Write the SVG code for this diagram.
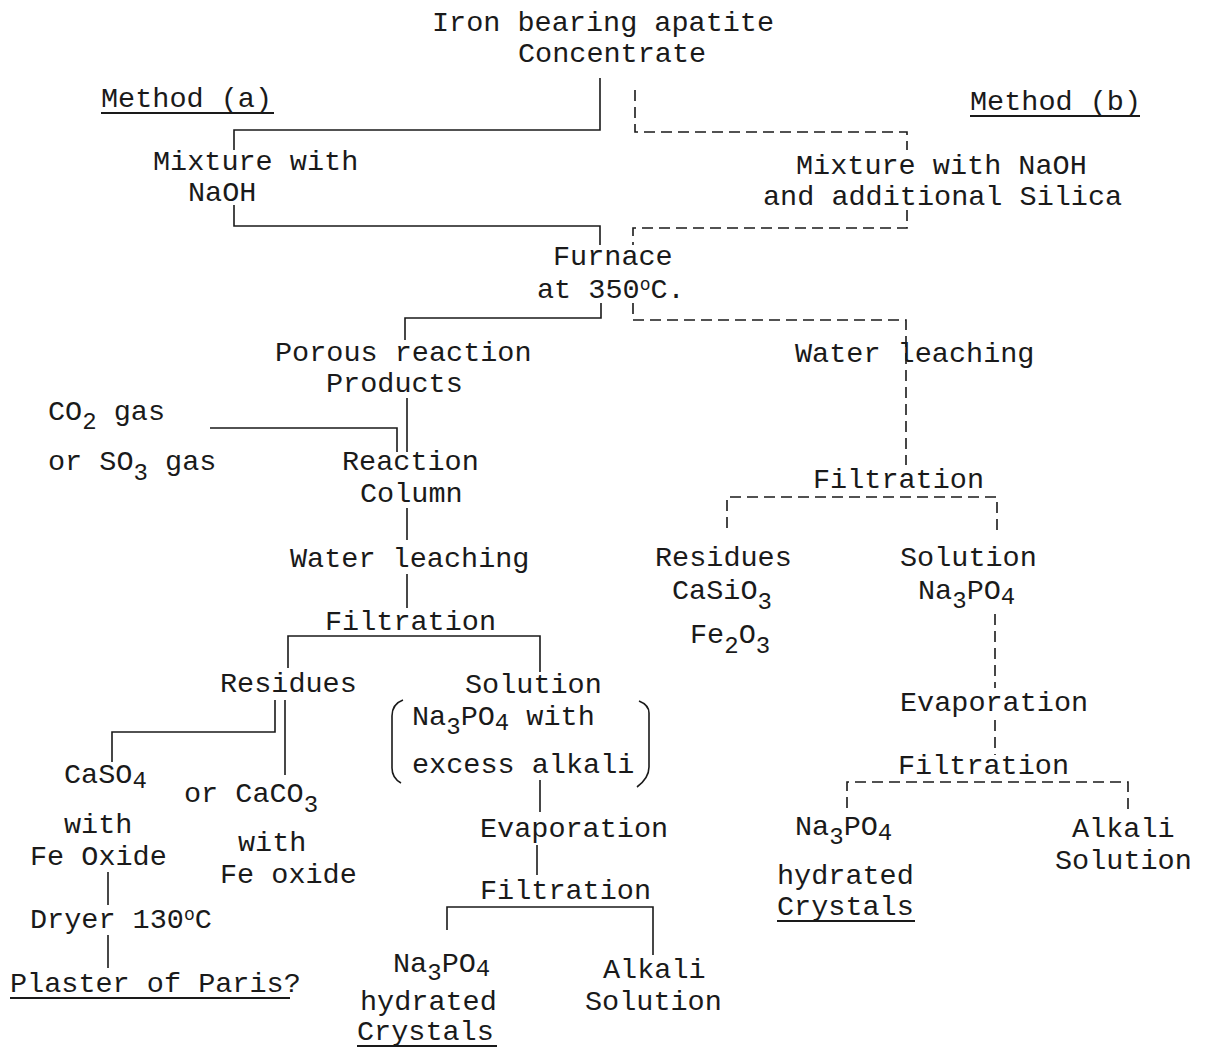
<svg xmlns="http://www.w3.org/2000/svg" width="1209" height="1050" viewBox="0 0 1209 1050">
  <style>
    text { font-family: "Liberation Mono", "DejaVu Sans Mono", monospace; font-size: 28.5px; fill: #1a1a1a; }
    .sub { font-size: 24px; }
    .sup { font-size: 18px; }
    .solid { fill: none; stroke: #1a1a1a; stroke-width: 1.6; }
    .dash { fill: none; stroke: #1a1a1a; stroke-width: 1.6; stroke-dasharray: 11 6; }
    .ul { stroke: #1a1a1a; stroke-width: 2; }
  </style>
  <rect width="1209" height="1050" fill="#ffffff"/>

  <!-- connectors -->
  <g id="connectors">
    <!-- method (a), solid -->
    <path class="solid" d="M600,78 V130 H234 V150"/>
    <path class="solid" d="M234,205 V226 H600 V245"/>
    <path class="solid" d="M601,303 V318 H405 V340"/>
    <path class="solid" d="M407,398 V452"/>
    <path class="solid" d="M210,428 H397 V452"/>
    <path class="solid" d="M407,508 V540"/>
    <path class="solid" d="M407,574 V608"/>
    <path class="solid" d="M288,668 V636 H540 V672"/>
    <path class="solid" d="M275,700 V732 H112 V762"/>
    <path class="solid" d="M285,700 V775"/>
    <path class="solid" d="M108,872 V905"/>
    <path class="solid" d="M108,935 V968"/>
    <path class="solid" d="M540,780 V812"/>
    <path class="solid" d="M537,845 V875"/>
    <path class="solid" d="M447,930 V907 H653 V955"/>
    <!-- brackets round the solution -->
    <path class="solid" d="M403,700 Q392,704 392,716 V768 Q392,778 401,783"/>
    <path class="solid" d="M639,701 Q649,705 649,713 V767 Q649,778 637,787"/>
    <!-- method (b), dashed -->
    <path class="dash" d="M635,90 V132 H907 V150"/>
    <path class="dash" d="M907,210 V228 H633 V245"/>
    <path class="dash" d="M633,303 V320 H906 V465"/>
    <path class="dash" d="M727,528 V497 H997 V535"/>
    <path class="dash" d="M995,614 V688"/>
    <path class="dash" d="M995,720 V755"/>
    <path class="dash" d="M847,808 V782 H1128 V812"/>
  </g>

  <!-- headings -->
  <g id="start">
    <text x="432" y="31">Iron bearing apatite</text>
    <text x="518" y="62">Concentrate</text>
  </g>
  <g id="method-a">
    <text x="101" y="107">Method (a)</text>
    <line class="ul" x1="101" y1="113" x2="274" y2="113"/>
  </g>
  <g id="method-b">
    <text x="970" y="110">Method (b)</text>
    <line class="ul" x1="970" y1="116" x2="1140" y2="116"/>
  </g>

  <!-- method (a) chain -->
  <g id="mix-a">
    <text x="153" y="170">Mixture with</text>
    <text x="188" y="201">NaOH</text>
  </g>
  <g id="mix-b">
    <text x="796" y="174">Mixture with NaOH</text>
    <text x="763" y="205">and additional Silica</text>
  </g>
  <g id="furnace">
    <text x="553" y="265">Furnace</text>
    <text x="537" y="298">at 350<tspan class="sup" dy="-8">o</tspan><tspan dy="8">C.</tspan></text>
  </g>
  <g id="porous">
    <text x="275" y="361">Porous reaction</text>
    <text x="326" y="392">Products</text>
  </g>
  <g id="gas">
    <text x="48" y="420">CO<tspan class="sub" dy="9">2</tspan><tspan dy="-9"> gas</tspan></text>
    <text x="48" y="470">or SO<tspan class="sub" dy="10">3</tspan><tspan dy="-10"> gas</tspan></text>
  </g>
  <g id="column">
    <text x="342" y="470">Reaction</text>
    <text x="360" y="502">Column</text>
  </g>
  <g id="leach-a">
    <text x="290" y="567">Water leaching</text>
  </g>
  <g id="filter-a1">
    <text x="325" y="630">Filtration</text>
  </g>
  <g id="residues-a">
    <text x="220" y="692">Residues</text>
  </g>
  <g id="solution-a">
    <text x="465" y="693">Solution</text>
    <text x="412" y="725">Na<tspan class="sub" dy="9">3</tspan><tspan dy="-9">PO</tspan><tspan class="sub" dy="5">4</tspan><tspan dy="-5"> with</tspan></text>
    <text x="412" y="773">excess alkali</text>
  </g>
  <g id="caso4">
    <text x="64" y="783">CaSO<tspan class="sub" dy="5">4</tspan></text>
    <text x="64" y="833">with</text>
    <text x="30" y="865">Fe Oxide</text>
  </g>
  <g id="caco3">
    <text x="184" y="802">or CaCO<tspan class="sub" dy="10">3</tspan></text>
    <text x="238" y="851">with</text>
    <text x="220" y="883">Fe oxide</text>
  </g>
  <g id="dryer">
    <text x="30" y="928">Dryer 130<tspan class="sup" dy="-8">o</tspan><tspan dy="8">C</tspan></text>
  </g>
  <g id="plaster">
    <text x="10" y="992">Plaster of Paris?</text>
    <line class="ul" x1="10" y1="998" x2="290" y2="998"/>
  </g>
  <g id="evap-a">
    <text x="480" y="837">Evaporation</text>
  </g>
  <g id="filter-a2">
    <text x="480" y="899">Filtration</text>
  </g>
  <g id="crystals-a">
    <text x="393" y="972">Na<tspan class="sub" dy="8">3</tspan><tspan dy="-8">PO</tspan><tspan class="sub" dy="4">4</tspan></text>
    <text x="360" y="1010">hydrated</text>
    <text x="357" y="1040">Crystals</text>
    <line class="ul" x1="357" y1="1046" x2="497" y2="1046"/>
  </g>
  <g id="alkali-a">
    <text x="603" y="978">Alkali</text>
    <text x="585" y="1010">Solution</text>
  </g>

  <!-- method (b) chain -->
  <g id="leach-b">
    <text x="795" y="362">Water leaching</text>
  </g>
  <g id="filter-b1">
    <text x="813" y="488">Filtration</text>
  </g>
  <g id="residues-b">
    <text x="655" y="566">Residues</text>
    <text x="672" y="599">CaSiO<tspan class="sub" dy="10">3</tspan></text>
    <text x="690" y="643">Fe<tspan class="sub" dy="10">2</tspan><tspan dy="-10">O</tspan><tspan class="sub" dy="10">3</tspan></text>
  </g>
  <g id="solution-b">
    <text x="900" y="566">Solution</text>
    <text x="918" y="599">Na<tspan class="sub" dy="9">3</tspan><tspan dy="-9">PO</tspan><tspan class="sub" dy="5">4</tspan></text>
  </g>
  <g id="evap-b">
    <text x="900" y="711">Evaporation</text>
  </g>
  <g id="filter-b2">
    <text x="898" y="774">Filtration</text>
  </g>
  <g id="crystals-b">
    <text x="795" y="835">Na<tspan class="sub" dy="9">3</tspan><tspan dy="-9">PO</tspan><tspan class="sub" dy="5">4</tspan></text>
    <text x="777" y="884">hydrated</text>
    <text x="777" y="915">Crystals</text>
    <line class="ul" x1="777" y1="921" x2="915" y2="921"/>
  </g>
  <g id="alkali-b">
    <text x="1072" y="837">Alkali</text>
    <text x="1055" y="869">Solution</text>
  </g>
</svg>
